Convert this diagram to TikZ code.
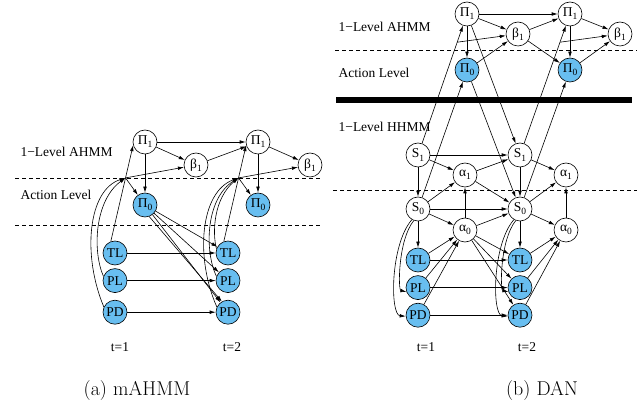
\documentclass[tikz,border=0pt]{standalone}
\usepackage{fontspec}
\newfontfamily\figfont{Liberation Serif}
\usetikzlibrary{positioning,calc,arrows.meta}
\definecolor{obsblue}{RGB}{104,190,240}
\newcommand{\lblfont}{\figfont\fontsize{13.5}{16}\selectfont}
\newcommand{\vsub}[2]{#1\raisebox{-0.5ex}{\fontsize{9.5}{10}\selectfont #2}}
\tikzset{%
  hidden node/.style={
    circle,
    draw,
    fill=white,
    minimum size=24pt,
    inner sep=0pt,
    font=\lblfont
  },
  observed node/.style={
    hidden node,
    fill=obsblue
  },
  level line/.style={
    dash pattern=on 4pt off 3pt
  },
}

\begin{document}
\begin{tikzpicture}[x=1pt,y=-1pt,>={Latex[length=6pt,width=3.6pt]},line width=0.6pt]
      \tikzstyle{lvl text}=[anchor=west,font=\lblfont]
      \useasboundingbox (0,0) rectangle (637,419);

      % (a) mAHMM
      \draw[level line] (15,178) -- (320,178);
      \draw[level line] (15,225) -- (320,225);
      \node[lvl text] (ahmmA) at (17,152) {1−Level AHMM};
      \node[lvl text] (actA) at (17,195) {Action Level};

      \node[hidden node] (pi1A) at (145,142) {\vsub{Π}{1}};
      \node[hidden node] (beta1A) at (196,165) {\vsub{β}{1}};
      \node[observed node] (pi0A) at (145,205) {\vsub{Π}{0}};
      \node[observed node] (tlA) at (115,253) {TL};
      \node[observed node,below=3pt of tlA] (plA) {PL};
      \node[observed node,below=7pt of plA] (pdA) {PD};

      \node[hidden node] (pi1B) at (258,142) {\vsub{Π}{1}};
      \node[hidden node] (beta1B) at (310,165) {\vsub{β}{1}};
      \node[observed node] (pi0B) at (258,205) {\vsub{Π}{0}};
      \node[observed node] (tlB) at (228,253) {TL};
      \node[observed node,below=3pt of tlB] (plB) {PL};
      \node[observed node,below=7pt of plB] (pdB) {PD};

      \node[font=\lblfont] (tA) at (120,347) {t=1};
      \node[font=\lblfont] (tB) at (232,347) {t=2};

      \draw[->] (pi1A) -- (pi1B);
      \draw[->] (pi1A) -- (beta1A);
      \draw[->] (beta1A) -- (pi1B);
      \draw[->] (pi1B) -- (beta1B);
      \draw[->] (pi1A) -- (pi0A);
      \draw[->] (pi1B) -- (pi0B);

      \draw[->] (tlA.110) -- (pi1A.195);
      \coordinate (hubA) at ($(tlA.110)!0.66!(pi1A.195)$);
      \draw[->] (hubA) -- (beta1A);
      \draw[->] (hubA) -- (pi0A);
      \draw[->] (plA.160) .. controls (92,250) and (95,200) .. (hubA);
      \draw[->] (pdA.155) .. controls (82,255) and (88,190) .. (hubA);

      \draw[->] (tlB.110) -- (pi1B.195);
      \coordinate (hubB) at ($(tlB.110)!0.66!(pi1B.195)$);
      \draw[->] (hubB) -- (beta1B);
      \draw[->] (hubB) -- (pi0B);
      \draw[->] (tlB.160) .. controls (212,232) and (214,198) .. (hubB);
      \draw[->] (plB.160) .. controls (204,250) and (206,198) .. (hubB);
      \draw[->] (pdB.155) .. controls (195,258) and (200,192) .. (hubB);

      \draw[->] (pi0A) -- (tlB);
      \draw[->] (pi0A) -- (plB);
      \draw[->] (pi0A) -- (pdB);
      \draw[->] (pi0A.-70) -- (pdB.120);
      \draw[->] (tlA) -- (tlB);
      \draw[->] (plA) -- (plB);
      \draw[->] (pdA) -- (pdB);

      % (b) DAN
      \draw[level line] (335,50) -- (637,50);
      \draw[level line] (333,190) -- (637,190);
      \draw[line width=6pt] (336,100) -- (632,100);
      \node[lvl text] (ahmmD) at (335,27) {1−Level AHMM};
      \node[lvl text] (actD) at (335,73) {Action Level};
      \node[lvl text] (hhmmD) at (335,127) {1−Level HHMM};

      \node[hidden node] (dpi1A) at (467,14) {\vsub{Π}{1}};
      \node[hidden node] (dbeta1A) at (518,34) {\vsub{β}{1}};
      \node[observed node] (dpi0A) at (467,70) {\vsub{Π}{0}};
      \node[hidden node] (dpi1B) at (570,14) {\vsub{Π}{1}};
      \node[hidden node] (dbeta1B) at (620,34) {\vsub{β}{1}};
      \node[observed node] (dpi0B) at (570,70) {\vsub{Π}{0}};

      \node[hidden node] (ds1A) at (418,155) {\vsub{S}{1}};
      \node[hidden node] (dal1A) at (465,175) {\vsub{α}{1}};
      \node[hidden node] (ds0A) at (418,209) {\vsub{S}{0}};
      \node[hidden node] (dal0A) at (465,230) {\vsub{α}{0}};
      \node[observed node] (dtlA) at (418,260) {TL};
      \node[observed node,below=3pt of dtlA] (dplA) {PL};
      \node[observed node,below=3pt of dplA] (dpdA) {PD};

      \node[hidden node] (ds1B) at (520,155) {\vsub{S}{1}};
      \node[hidden node] (dal1B) at (566,175) {\vsub{α}{1}};
      \node[hidden node] (ds0B) at (520,209) {\vsub{S}{0}};
      \node[hidden node] (dal0B) at (566,230) {\vsub{α}{0}};
      \node[observed node] (dtlB) at (520,260) {TL};
      \node[observed node,below=3pt of dtlB] (dplB) {PL};
      \node[observed node,below=3pt of dplB] (dpdB) {PD};

      \node[font=\lblfont] (dtA) at (426,347) {t=1};
      \node[font=\lblfont] (dtB) at (527,347) {t=2};

      % policy level
      \draw[->] (dpi1A) -- (dpi1B);
      \draw[->] (dpi1A) -- (dbeta1A);
      \draw[->] (dbeta1A) -- (dpi1B);
      \draw[->] (dpi1A) -- (dpi0A);
      \draw[->] (dpi0A) -- (dbeta1A);
      \draw[->] (dbeta1A) -- (dpi0B);
      \draw[->] (dpi1B) -- (dbeta1B);
      \draw[->] (dpi1B) -- (dpi0B);
      \draw[->] (dpi0B) -- (dbeta1B);

      % between the two models
      \draw[->] (ds1A) -- (dpi1A);
      \coordinate (dhubA) at ($(ds1A)!0.8!(dpi1A)$);
      \draw[->] (dhubA) -- (dbeta1A);
      \draw[->] (ds0A) -- (dpi0A);
      \draw[->] (ds1B) -- (dpi1B);
      \coordinate (dhubB) at ($(ds1B)!0.8!(dpi1B)$);
      \draw[->] (dhubB) -- (dbeta1B);
      \draw[->] (ds0B) -- (dpi0B);
      \draw[->] (dpi1A) -- (ds1B);
      \draw[->] (dpi0A) -- (ds0B);

      % state level
      \draw[->] (ds1A) -- (ds1B);
      \draw[->] (ds1A) -- (dal1A);
      \draw[->] (dal1A) -- (ds1B);
      \draw[->] (dal1A) -- (ds0B);
      \draw[->] (ds1A) -- (ds0A);
      \draw[->] (ds0A) -- (dal1A);
      \draw[->] (dal0A) -- (dal1A);
      \draw[->] (ds0A) -- (ds0B);
      \draw[->] (ds0A) -- (dal0A);
      \draw[->] (dal0A) -- (ds0B);
      \draw[->] (ds1B) -- (dal1B);
      \draw[->] (ds1B) -- (ds0B);
      \draw[->] (ds0B) -- (dal1B);
      \draw[->] (dal0B) -- (dal1B);
      \draw[->] (ds0B) -- (dal0B);

      % observations
      \draw[->] (ds0A) -- (dtlA);
      \draw[->] (ds0A.250) .. controls (398,240) and (398,290) .. (dplA.200);
      \draw[->] (ds0A.240) .. controls (390,245) and (390,315) .. (dpdA.185);
      \draw[->] (ds0B) -- (dtlB);
      \draw[->] (ds0B.250) .. controls (500,240) and (500,290) .. (dplB.200);
      \draw[->] (ds0B.240) .. controls (492,245) and (492,315) .. (dpdB.185);
      \draw[->] (dtlA) -- (dal0A);
      \draw[->] (dplA) -- (dal0A);
      \draw[->] (dpdA) -- (dal0A);
      \draw[->] (dtlB) -- (dal0B);
      \draw[->] (dplB) -- (dal0B);
      \draw[->] (dpdB) -- (dal0B);
      \draw[->] (dal0A) -- (dtlB);
      \draw[->] (dal0A) -- (dplB);
      \draw[->] (dal0A) -- (dpdB);
      \draw[->] (dtlA) -- (dtlB);
      \draw[->] (dplA) -- (dplB);
      \draw[->] (dpdA) -- (dpdB);

      % captions
      \node[font=\fontsize{20}{24}\selectfont] (capA) at (137,391) {(a) mAHMM};
      \node[font=\fontsize{20}{24}\selectfont] (capB) at (542,391) {(b) DAN};
  \end{tikzpicture}
\end{document}
